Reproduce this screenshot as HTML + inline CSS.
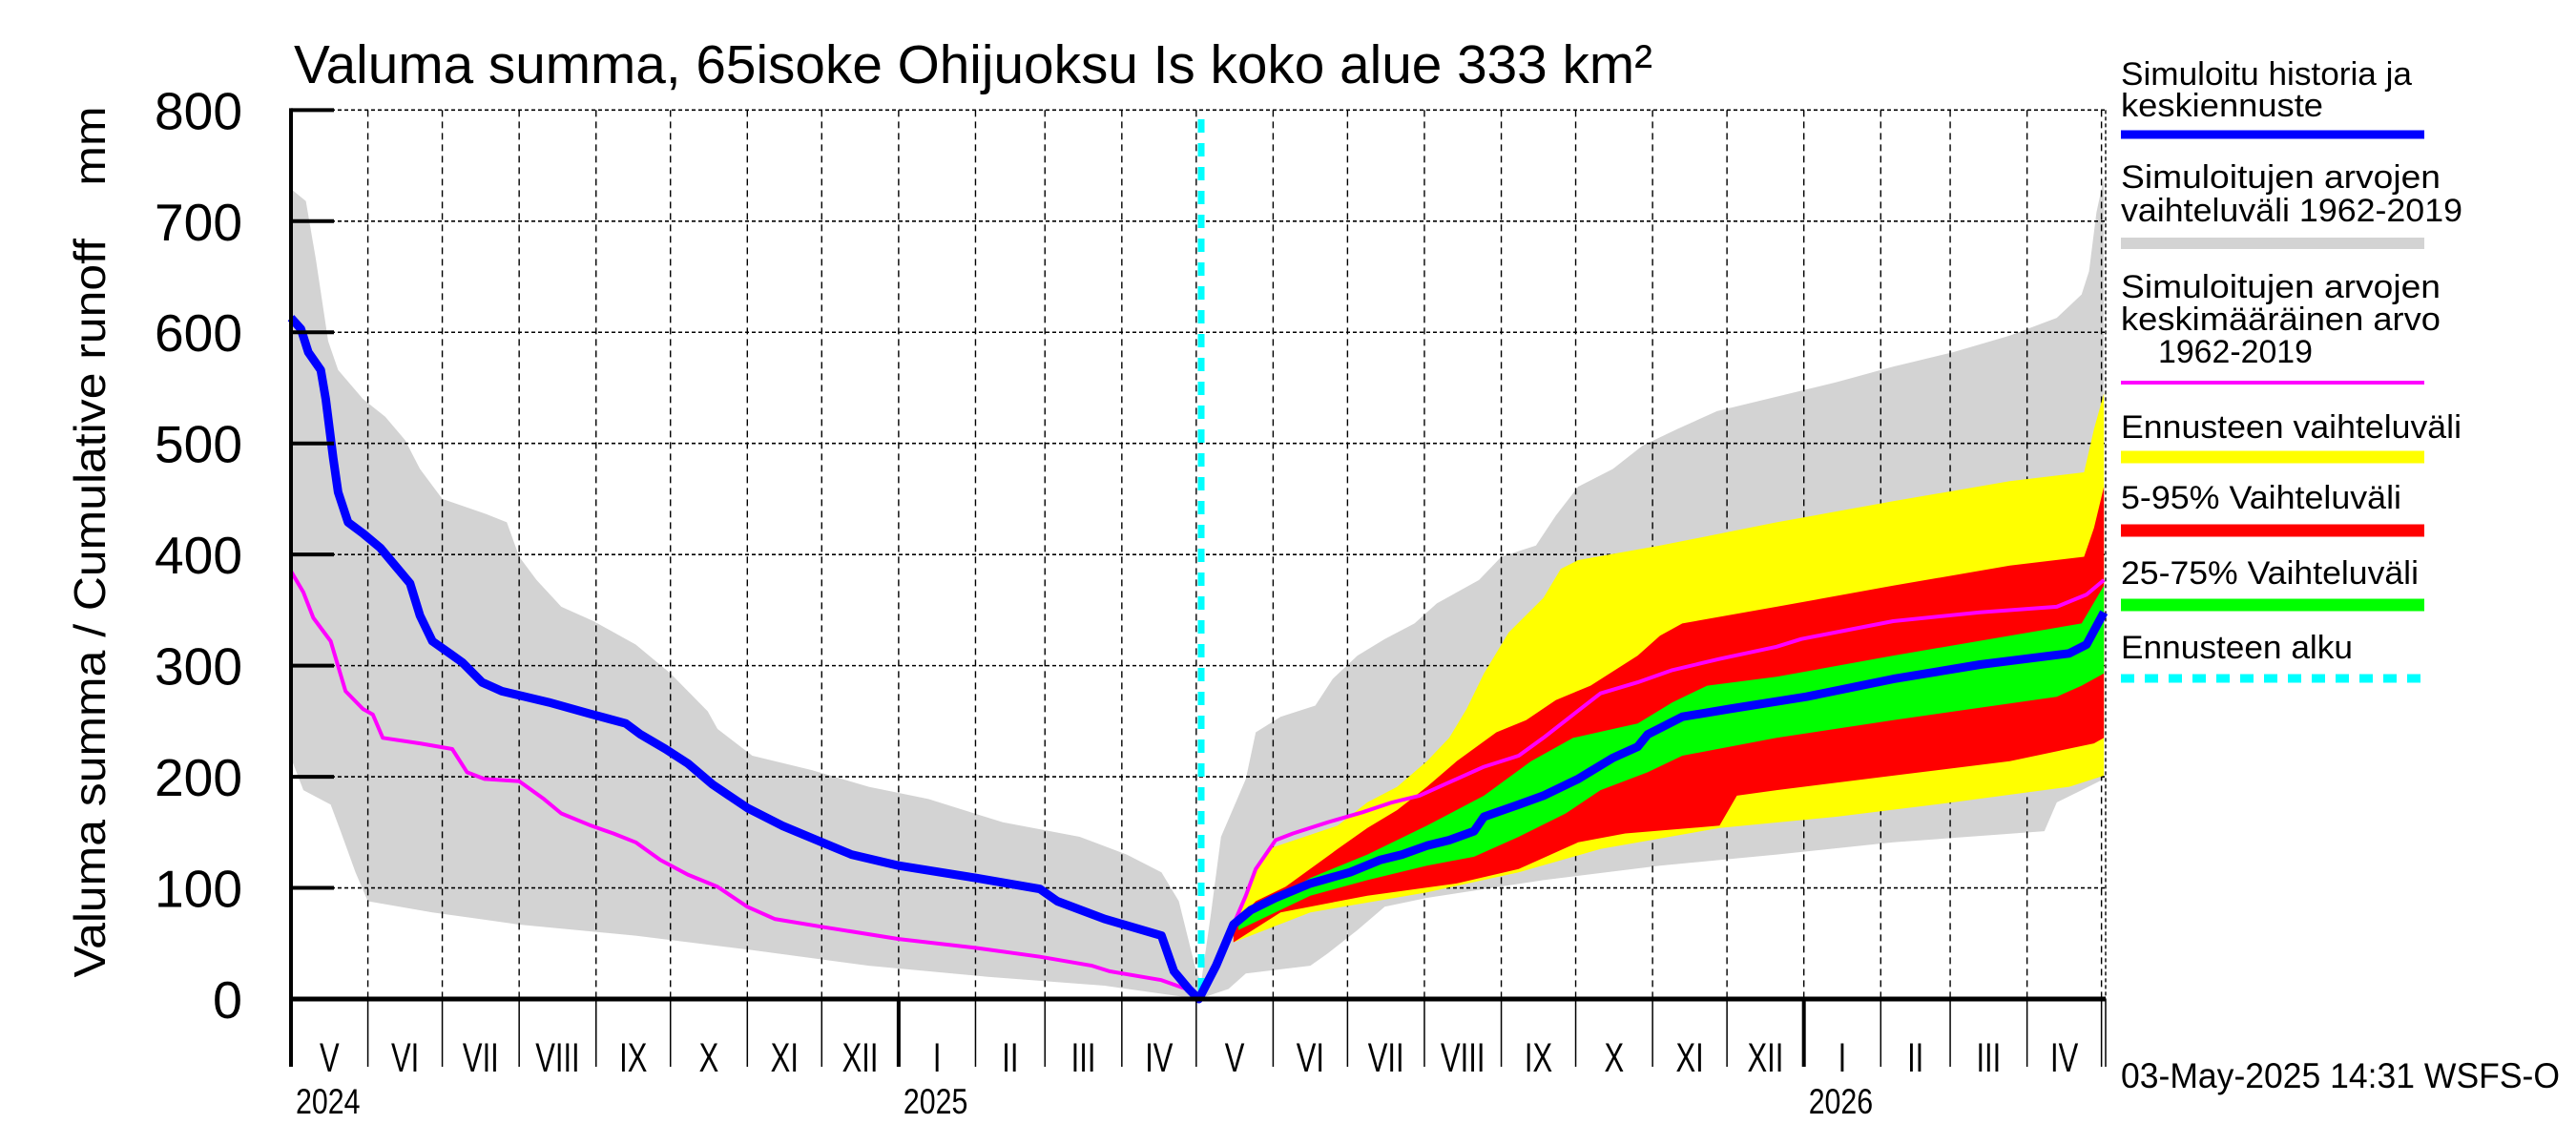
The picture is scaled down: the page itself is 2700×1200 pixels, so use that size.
<!DOCTYPE html>
<html><head><meta charset="utf-8"><style>
html,body{margin:0;padding:0;background:#fff}
svg{display:block;font-family:"Liberation Sans",sans-serif}
</style></head><body>
<svg id="chart" xmlns="http://www.w3.org/2000/svg" width="2700" height="1200" viewBox="0 0 2700 1200">
<rect x="0" y="0" width="2700" height="1200" fill="#fff"/>
<text x="308" y="87" font-size="57" textLength="1424" lengthAdjust="spacingAndGlyphs">Valuma summa, 65isoke Ohijuoksu Is koko alue 333 km²</text>
<text transform="translate(110,568) rotate(-90)" text-anchor="middle" font-size="46" textLength="913" lengthAdjust="spacingAndGlyphs" xml:space="preserve">Valuma summa / Cumulative runoff    mm</text>
<g id="gGray"></g>
<g id="gGrid"></g>
<g id="gBands"></g>
<g id="gLines"></g>
<g id="gAxes"></g>
<g id="gLegend" font-size="34">
<text x="2223" y="89" textLength="305" lengthAdjust="spacingAndGlyphs">Simuloitu historia ja</text>
<text x="2223" y="122" textLength="212" lengthAdjust="spacingAndGlyphs">keskiennuste</text>
<line x1="2223" y1="141" x2="2541" y2="141" stroke="#0000ff" stroke-width="9"/>
<text x="2223" y="197" textLength="335" lengthAdjust="spacingAndGlyphs">Simuloitujen arvojen</text>
<text x="2223" y="232" textLength="358" lengthAdjust="spacingAndGlyphs">vaihteluväli 1962-2019</text>
<line x1="2223" y1="255" x2="2541" y2="255" stroke="#d3d3d3" stroke-width="12"/>
<text x="2223" y="312" textLength="335" lengthAdjust="spacingAndGlyphs">Simuloitujen arvojen</text>
<text x="2223" y="346" textLength="335" lengthAdjust="spacingAndGlyphs">keskimääräinen arvo</text>
<text x="2262" y="380" textLength="162" lengthAdjust="spacingAndGlyphs">1962-2019</text>
<line x1="2223" y1="401" x2="2541" y2="401" stroke="#ff00ff" stroke-width="4"/>
<text x="2223" y="459" textLength="357" lengthAdjust="spacingAndGlyphs">Ennusteen vaihteluväli</text>
<line x1="2223" y1="479" x2="2541" y2="479" stroke="#ffff00" stroke-width="13"/>
<text x="2223" y="533" textLength="294" lengthAdjust="spacingAndGlyphs">5-95% Vaihteluväli</text>
<line x1="2223" y1="556" x2="2541" y2="556" stroke="#ff0000" stroke-width="13"/>
<text x="2223" y="612" textLength="312" lengthAdjust="spacingAndGlyphs">25-75% Vaihteluväli</text>
<line x1="2223" y1="634" x2="2541" y2="634" stroke="#00ff00" stroke-width="13"/>
<text x="2223" y="690" textLength="243" lengthAdjust="spacingAndGlyphs">Ennusteen alku</text>
<line x1="2223" y1="711" x2="2541" y2="711" stroke="#00ffff" stroke-width="9" stroke-dasharray="14,11"/>
</g>
<text x="2223" y="1140" font-size="37" textLength="460" lengthAdjust="spacingAndGlyphs">03-May-2025 14:31 WSFS-O</text>
</svg>
<script>
// day index: 0 = 2024-05-01
const yTicks = [0,100,200,300,400,500,600,700,800];
const monthStarts = [0,31,61,92,123,153,184,214,245,276,304,335,365,396,426,457,488,518,549,579,610,641,669,700,730];
const monthLabels = ["V","VI","VII","VIII","IX","X","XI","XII","I","II","III","IV","V","VI","VII","VIII","IX","X","XI","XII","I","II","III","IV"];
const yearStarts = [0,245,610];
const yearLabels = ["2024","2025","2026"];
const forecastStartDay = 367;

const histBlueDays = [0,4,7,12,14,17,19,23,29,36,42,48,52,57,64,69,77,85,104,120,135,141,151,160,170,184,198,212,226,245,276,302,309,328,351,356,362,366];
const histBlueVals = [613,603,582,566,540,487,456,429,419,406,390,374,345,322,311,303,285,277,267,257,248,238,225,212,193,172,156,143,130,120,109,99,88,72,57,25,9,0];
const fcBlueDays = [367,373,380,387,397,411,427,439,448,458,467,477,481,495,505,519,533,543,547,561,580,611,646,681,717,724,731];
const fcBlueVals = [4,30,67,80,91,104,114,125,130,138,143,151,164,175,183,198,217,227,238,254,261,272,288,301,311,319,348];

const meanDays = [0,5,9,16,22,29,33,37,52,65,71,78,92,102,109,121,130,139,149,160,172,184,195,214,245,276,302,323,330,351,361,366,373,380,385,389,397,404,418,432,444,455,465,481,495,505,517,528,543,557,576,599,609,646,681,712,724,731];
const meanVals = [385,366,343,322,277,261,256,235,230,225,204,198,196,180,167,156,149,141,125,112,101,83,72,65,54,46,38,30,25,17,9,0,30,67,93,117,143,149,159,168,177,183,193,209,219,235,256,275,285,296,306,317,324,340,348,353,364,377];

const grayUpDays = [0,6,10,15,19,29,38,46,52,61,78,87,92,99,109,122,139,153,168,172,186,210,233,257,287,318,337,351,358,365,367,371,375,380,385,389,399,413,420,430,441,453,462,479,488,502,510,519,533,545,559,575,599,623,646,670,693,712,722,725,728,731];
const grayUpVals = [729,718,666,592,566,540,524,503,477,450,437,429,398,377,353,340,319,293,259,243,219,206,191,180,159,146,130,114,88,25,15,78,146,172,198,240,254,264,288,309,324,338,356,377,398,408,435,461,477,498,513,529,542,555,569,582,597,613,634,655,708,739];
const grayLoDays = [0,5,16,20,26,31,57,92,139,186,233,281,328,366,378,385,411,418,430,441,458,505,552,599,646,707,712,722,731];
const grayLoVals = [217,188,175,151,114,88,78,67,57,44,30,20,12,0,9,23,30,41,62,83,91,107,120,130,141,151,177,188,198];

const yelUpDays = [380,389,394,422,434,446,458,467,474,481,491,505,512,519,552,599,646,693,723,727,731];
const yelUpVals = [67,114,135,156,177,191,214,235,261,293,330,361,387,395,408,429,448,466,474,513,545];
const yelLoDays = [380,411,458,495,528,576,623,670,717,731];
const yelLoVals = [51,78,96,114,135,154,164,177,191,201];
const redUpDays = [380,389,401,422,434,446,458,470,486,498,510,524,543,552,561,599,646,693,723,727,731];
const redUpVals = [67,88,101,135,154,170,191,214,240,251,269,282,309,327,338,353,372,390,398,424,461];
const redLoDays = [380,399,434,470,495,519,538,576,583,599,646,693,727,731];
const redLoVals = [51,78,93,104,117,141,149,156,183,188,201,214,230,235];
const grnUpDays = [382,411,434,458,481,500,517,543,557,571,599,646,693,722,731];
const grnUpVals = [72,109,130,156,183,214,235,248,267,282,290,309,327,338,372];
const grnLoDays = [382,411,434,458,477,495,514,528,547,561,599,646,712,722,731];
const grnLoVals = [62,93,107,120,128,146,167,188,204,219,235,251,272,282,293];

const X0 = 305, X1 = 2207, PPD = 2.5995, Y0 = 1047, PPV = 1.1646;
const NS = "http://www.w3.org/2000/svg";
function xs(d){ return X0 + d*PPD; }
function ys(v){ return Y0 - v*PPV; }
function mk(tag, attrs, parent){
  const e = document.createElementNS(NS, tag);
  for (const k in attrs) e.setAttribute(k, attrs[k]);
  parent.appendChild(e); return e;
}
function pts(days, vals){ return days.map((d,i)=>xs(d).toFixed(1)+","+ys(vals[i]).toFixed(1)); }
function band(upD, upV, loD, loV){
  const a = pts(upD, upV), b = pts(loD, loV).reverse();
  return "M" + a.join(" L") + " L" + b.join(" L") + " Z";
}
const gGray = document.getElementById('gGray');
const gGrid = document.getElementById('gGrid');
const gBands = document.getElementById('gBands');
const gLines = document.getElementById('gLines');
const gAxes = document.getElementById('gAxes');

let p = mk('path', {d: band(grayUpDays, grayUpVals, grayLoDays, grayLoVals), fill:'#d3d3d3'}, gGray);



yTicks.forEach(v => {
  if (v === 0) return;
  const l = mk('line', {x1:X0, x2:X1, y1:ys(v), y2:ys(v), stroke:'#000', 'stroke-width':1.6, 'stroke-dasharray':'4,3'}, gGrid);
  
  
});
monthStarts.forEach(d => {
  if (d === 0) return;
  const l = mk('line', {x1:xs(d), x2:xs(d), y1:ys(800), y2:Y0, stroke:'#000', 'stroke-width':1.4, 'stroke-dasharray':'7,5'}, gGrid);
  
  
});
let rl = mk('line', {x1:X1, x2:X1, y1:ys(800), y2:Y0, stroke:'#000', 'stroke-width':1.4, 'stroke-dasharray':'4,3'}, gGrid);



p = mk('path', {d: band(yelUpDays, yelUpVals, yelLoDays, yelLoVals), fill:'#ffff00'}, gBands);


p = mk('path', {d: band(redUpDays, redUpVals, redLoDays, redLoVals), fill:'#ff0000'}, gBands);


p = mk('path', {d: band(grnUpDays, grnUpVals, grnLoDays, grnLoVals), fill:'#00ff00'}, gBands);



let fl = mk('line', {x1:xs(forecastStartDay), x2:xs(forecastStartDay), y1:125, y2:Y0, stroke:'#00ffff', 'stroke-width':7, 'stroke-dasharray':'14,11'}, gLines);



p = mk('polyline', {points: pts(meanDays, meanVals).join(" "), fill:'none', stroke:'#ff00ff', 'stroke-width':4, 'stroke-linejoin':'round'}, gLines);


p = mk('polyline', {points: pts(histBlueDays.concat(fcBlueDays), histBlueVals.concat(fcBlueVals)).join(" "), fill:'none', stroke:'#0000ff', 'stroke-width':9, 'stroke-linejoin':'round'}, gLines);



let ax = mk('line', {x1:X0, x2:X0, y1:ys(800)-2, y2:Y0+3, stroke:'#000', 'stroke-width':4}, gAxes);


ax = mk('line', {x1:X0, x2:X1, y1:Y0, y2:Y0, stroke:'#000', 'stroke-width':5}, gAxes);


yTicks.forEach(v => {
  const t = mk('line', {x1:X0, x2:350, y1:ys(v), y2:ys(v), stroke:'#000', 'stroke-width':4}, gAxes);
  
  
  const tx = mk('text', {x:254, y:ys(v)+20, 'font-size':55, 'text-anchor':'end', textLength: v===0?31:92, lengthAdjust:'spacingAndGlyphs'}, gAxes);
  tx.textContent = String(v);
  
  
});
monthStarts.forEach(d => {
  const t = mk('line', {x1:xs(d), x2:xs(d), y1:Y0, y2:1118, stroke:'#000', 'stroke-width':1.5}, gAxes);
  
  
});
let ft = mk('line', {x1:X1, x2:X1, y1:Y0, y2:1118, stroke:'#000', 'stroke-width':1.5}, gAxes);


const SX = 0.72;
monthLabels.forEach((m,i) => {
  const c = (xs(monthStarts[i]) + xs(monthStarts[i+1]))/2;
  const t = mk('text', {x:c/SX, y:1123, 'font-size':43, 'text-anchor':'middle', transform:'scale('+SX+',1)'}, gAxes);
  t.textContent = m;
  
  
});
yearStarts.forEach((d,i) => {
  const l = mk('line', {x1:xs(d), x2:xs(d), y1:Y0, y2:1118, stroke:'#000', 'stroke-width':4}, gAxes);
  
  
  const t = mk('text', {x:(xs(d)+5)/0.82, y:1167, 'font-size':37, transform:'scale(0.82,1)'}, gAxes);
  t.textContent = yearLabels[i];
  
  
});
</script>
</body></html>
